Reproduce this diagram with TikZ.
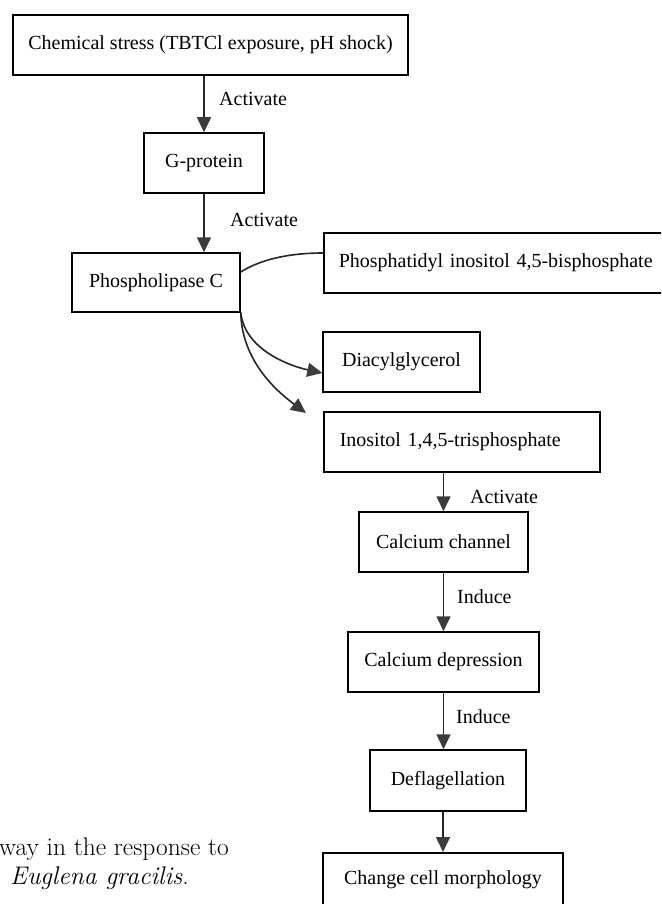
\documentclass[tikz,border=0pt]{standalone}
\usepackage{fontspec}
\setmainfont{Liberation Serif}
\newfontfamily\lmfont{Latin Modern Roman}
\usetikzlibrary{arrows.meta}
\definecolor{tipgray}{HTML}{3C3C3C}
\begin{document}
\begin{tikzpicture}[x=1pt,y=-1pt,
  box/.style={draw=black, line width=1.5pt, inner sep=0pt, align=center,
    font=\fontsize{20}{24}\selectfont},
  lab/.style={inner sep=0pt, anchor=west, font=\fontsize{20}{24}\selectfont},
  conn/.style={line width=1.6pt, draw=black!85},
  arr/.style={conn, -{Triangle[width=14pt,length=15pt,color=tipgray]}},
  captext/.style={inner sep=0pt, anchor=base west, font=\lmfont\fontsize{25.5}{29}\selectfont}]
\useasboundingbox (0,0) rectangle (661,904);
\clip (0,0) rectangle (661,904);
\fill[white] (0,0) rectangle (661,904);
% boxes
\node[box, minimum width=395pt, minimum height=60pt] (chem) at (210.5,45)
  {Chemical stress (TBTCl exposure, pH shock)};
\node[box, minimum width=120pt, minimum height=60pt] (gprot) at (204,163) {G-protein};
\node[box, minimum width=168pt, minimum height=59pt] (plc) at (156,282.5) {Phospholipase C};
\node[box, anchor=west, minimum height=60pt, inner xsep=15pt, text width=330pt, align=left]
  (pip2) at (323,263) {Phosphatidyl inositol 4,5-bisphosphate};
\node[box, minimum width=157pt, minimum height=60pt] (dag) at (401.5,362) {Diacylglycerol};
\node[box, anchor=west, minimum height=60pt, inner xsep=16pt, text width=244pt, align=left]
  (ip3) at (323,442) {Inositol 1,4,5-trisphosphate};
\node[box, minimum width=169pt, minimum height=60pt] (cach) at (443.5,542) {Calcium channel};
\node[box, minimum width=191pt, minimum height=60pt] (cadep) at (443.5,662) {Calcium depression};
\node[box, minimum width=156pt, minimum height=61pt] (defl) at (448,780.5) {Deflagellation};
\node[box, anchor=north, minimum width=240pt, minimum height=54pt] (change) at (443,852)
  {Change cell morphology};
% labels
\node[lab] (l1) at (219,99) {Activate};
\node[lab] (l2) at (230,220) {Activate};
\node[lab] (l3) at (470,497) {Activate};
\node[lab] (l4) at (457,597) {Induce};
\node[lab] (l5) at (456,717) {Induce};
% straight arrows
\draw[arr] (gprot.north |- chem.south) -- (gprot.north);
\draw[arr] (gprot.south) -- (gprot.south |- plc.north);
\draw[arr] (cach.north |- ip3.south) -- (cach.north);
\draw[arr] (cach.south) -- (cach.south |- cadep.north);
\draw[arr] (cadep.south) -- (cadep.south |- defl.north);
\draw[arr] (defl.south -| change.north) -- (change.north);
% curved connectors
\coordinate (ip3end) at (306,413);
\draw[conn] ([yshift=10pt]pip2.west) .. controls (285,253) and (258,261) .. ([yshift=10.5pt]plc.east);
\draw[arr] (plc.south east) .. controls (245,350) and (290,366) .. ([yshift=-11pt]dag.west);
\draw[arr] (plc.south east) .. controls (242,360) and (275,390) .. (ip3end);
% caption fragment
\node[captext] (cap1) at (-1,855) {way in the response to};
\node[captext] (cap2) at (10,884) {\textit{Euglena gracilis}.};
\end{tikzpicture}
\end{document}
